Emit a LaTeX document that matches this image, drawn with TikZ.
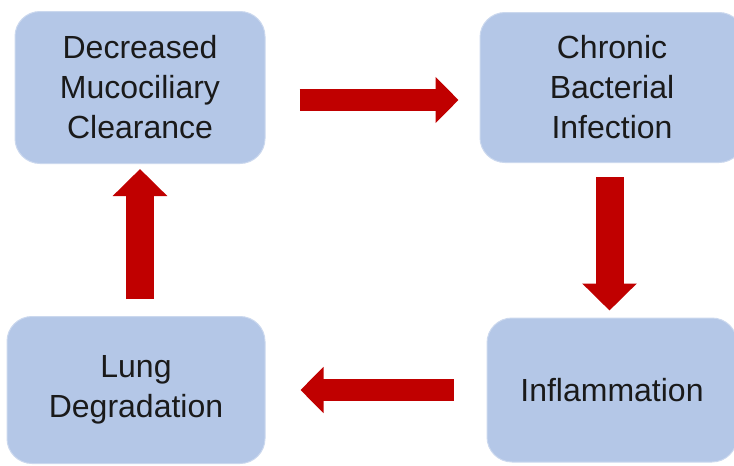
\documentclass[tikz,border=0pt]{standalone}
\usepackage{fontspec}
\setmainfont{Liberation Sans}
\usetikzlibrary{arrows.meta}
\definecolor{boxblue}{HTML}{B4C7E7}
\definecolor{arrowred}{HTML}{C00000}
\definecolor{boxtext}{HTML}{1A1A1A}
\tikzstyle{box} = [rectangle, rounded corners=25pt, fill=boxblue, draw=boxblue!70!white, line width=1pt, align=center, text=boxtext, font=\fontsize{32}{40}\selectfont]
\tikzstyle{harrow} = [arrowred, line width=22pt, -{Triangle[length=23pt,width=45pt]}]
\tikzstyle{varrow} = [arrowred, line width=28pt, -{Triangle[length=27pt,width=53pt]}]

\begin{document}
\begin{tikzpicture}[x=1pt,y=-1pt]
\useasboundingbox (0,0) rectangle (734,466);
\clip (0,0) rectangle (734,466);
\node[box, minimum width=250pt, minimum height=152pt] (dmc) at (140,87.5) {Decreased\\Mucociliary\\Clearance};
\node[box, minimum width=264pt, minimum height=150pt] (cbi) at (612,87.5) {Chronic\\Bacterial\\Infection};
\node[box, minimum width=250pt, minimum height=144pt] (infl) at (612,390) {Inflammation};
\node[box, minimum width=258pt, minimum height=147pt] (lung) at (136,390) {Lung\\Degradation};

% cycle arrows
\draw[harrow, shorten <=34pt] ([yshift=-12.5pt]dmc.east) -- ([xshift=-21pt,yshift=-12.5pt]cbi.west);
\draw[varrow, shorten <=14pt] ([xshift=-2.5pt]cbi.south) -- ([xshift=-2.5pt,yshift=7pt]infl.north);
\draw[harrow, shorten <=33pt] (infl.west) -- ([xshift=35pt]lung.east);
\draw[varrow, shorten <=17pt] (dmc.south |- lung.north) -- ([yshift=-5pt]dmc.south);
\end{tikzpicture}
\end{document}
